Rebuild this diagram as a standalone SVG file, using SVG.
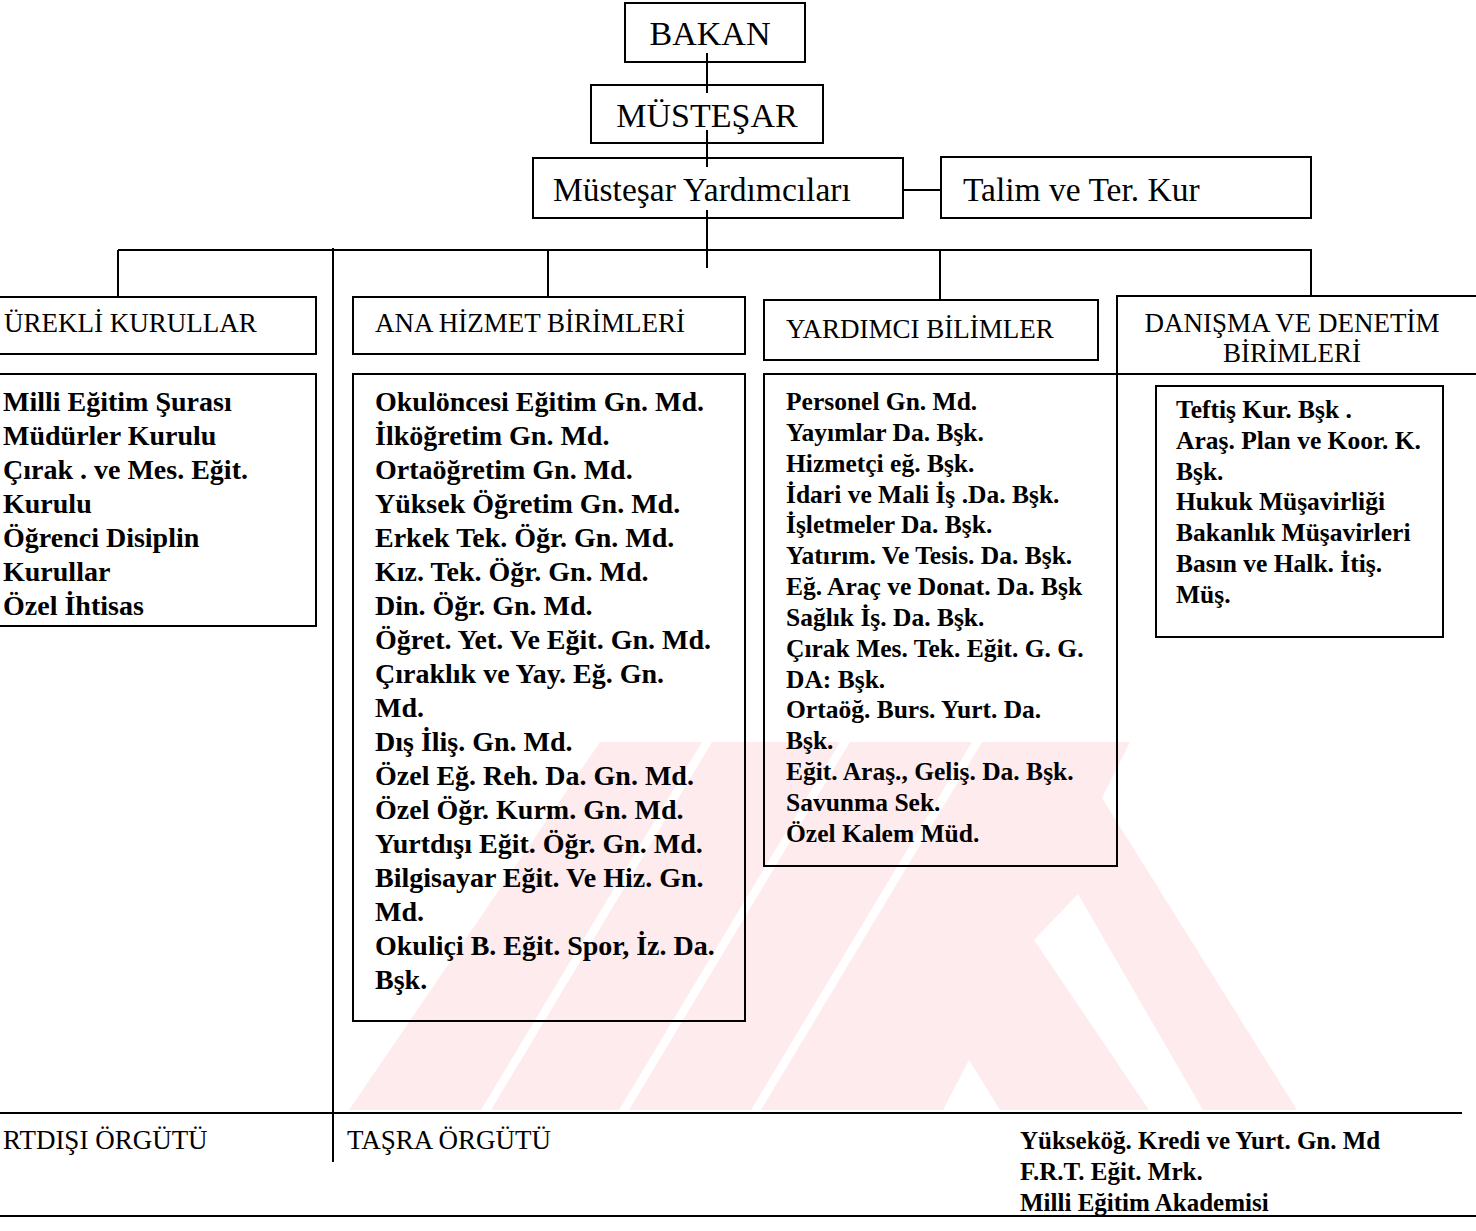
<svg xmlns="http://www.w3.org/2000/svg" width="1476" height="1231" viewBox="0 0 1476 1231">
<style>
.box{fill:none;stroke:#000;stroke-width:2}
.ln{fill:none;stroke:#000;stroke-width:2}
.t{font-family:"Liberation Serif","Times New Roman",serif;fill:#000}
.big{font-size:34px}
.mid{font-size:33.5px}
.hd{font-size:27px}
.la{font-size:28px;font-weight:bold}
.lb{font-size:25.5px;font-weight:bold}
.bt{font-size:27px}
.br{font-size:25px;font-weight:bold}
.wm{fill:#fdebee}
.wg{fill:#fff}
</style>
<rect width="1476" height="1231" fill="#fff"/>
<g id="watermark">
<polygon class="wm" points="349,1110 943,1110 969,1060 1000,1110 1297,1110 1102,798 1130,742 600,742"/>
<polygon class="wg" points="481,1110 491,1110 712,742 702,742"/>
<polygon class="wg" points="619,1110 629,1110 850,742 840,742"/>
<polygon class="wg" points="751,1110 761,1110 982,742 972,742"/>
<polygon class="wg" points="1034,940 1078,894 1203,1110 1149,1110"/>
</g>
<g id="connectors">
<line class="ln" x1="707" y1="53" x2="707" y2="93"/>
<line class="ln" x1="707" y1="130" x2="707" y2="167"/>
<line class="ln" x1="707" y1="210" x2="707" y2="268"/>
<line class="ln" x1="903" y1="190" x2="941" y2="190"/>
<line class="ln" x1="118" y1="250" x2="1312" y2="250"/>
<line class="ln" x1="118" y1="250" x2="118" y2="297"/>
<line class="ln" x1="548" y1="250" x2="548" y2="297"/>
<line class="ln" x1="940" y1="250" x2="940" y2="300"/>
<line class="ln" x1="1311" y1="250" x2="1311" y2="296"/>
<line class="ln" x1="333" y1="248" x2="333" y2="1162"/>
<line class="ln" x1="0" y1="1113" x2="1462" y2="1113"/>
<line class="ln" x1="0" y1="1216" x2="1476" y2="1216"/>
</g>
<g id="bakan">
<rect class="box" x="625" y="3" width="180" height="59"/>
<text class="t big" x="710" y="45" text-anchor="middle">BAKAN</text>
</g>
<g id="mustesar">
<rect class="box" x="591" y="85" width="232" height="58"/>
<text class="t big" x="707" y="127" text-anchor="middle">MÜSTEŞAR</text>
</g>
<g id="yardimcilar">
<rect class="box" x="533" y="158" width="370" height="60"/>
<text class="t mid" x="553" y="201">Müsteşar Yardımcıları</text>
</g>
<g id="talim">
<rect class="box" x="941" y="157" width="370" height="61"/>
<text class="t mid" x="963" y="201">Talim ve Ter. Kur</text>
</g>
<g id="surekli-kurullar">
<rect class="box" x="-5" y="297" width="321" height="57"/>
<text class="t hd" x="4" y="332">ÜREKLİ KURULLAR</text>
</g>
<g id="ana-hizmet">
<rect class="box" x="353" y="297" width="392" height="57"/>
<text class="t hd" x="375" y="332">ANA HİZMET BİRİMLERİ</text>
</g>
<g id="yardimci-bilimler">
<rect class="box" x="764" y="300" width="334" height="60"/>
<text class="t hd" x="786" y="338">YARDIMCI BİLİMLER</text>
</g>
<g id="danisma">
<rect class="box" x="1117" y="296" width="370" height="78"/>
<text class="t hd" x="1292" y="332" text-anchor="middle">DANIŞMA VE DENETİM</text>
<text class="t hd" x="1292" y="362" text-anchor="middle">BİRİMLERİ</text>
</g>
<g id="surekli-list">
<rect class="box" x="-5" y="374" width="321" height="252"/>
<text class="t la">
<tspan x="3" y="411">Milli Eğitim Şurası</tspan>
<tspan x="3" y="445">Müdürler Kurulu</tspan>
<tspan x="3" y="479">Çırak . ve Mes. Eğit.</tspan>
<tspan x="3" y="513">Kurulu</tspan>
<tspan x="3" y="547">Öğrenci Disiplin</tspan>
<tspan x="3" y="581">Kurullar</tspan>
<tspan x="3" y="615">Özel İhtisas</tspan>
</text>
</g>
<g id="ana-list">
<rect class="box" x="353" y="374" width="392" height="647"/>
<text class="t la">
<tspan x="375" y="411">Okulöncesi Eğitim Gn. Md.</tspan>
<tspan x="375" y="445">İlköğretim Gn. Md.</tspan>
<tspan x="375" y="479">Ortaöğretim Gn. Md.</tspan>
<tspan x="375" y="513">Yüksek Öğretim Gn. Md.</tspan>
<tspan x="375" y="547">Erkek Tek. Öğr. Gn. Md.</tspan>
<tspan x="375" y="581">Kız. Tek. Öğr. Gn. Md.</tspan>
<tspan x="375" y="615">Din. Öğr. Gn. Md.</tspan>
<tspan x="375" y="649">Öğret. Yet. Ve Eğit. Gn. Md.</tspan>
<tspan x="375" y="683">Çıraklık ve Yay. Eğ. Gn.</tspan>
<tspan x="375" y="717">Md.</tspan>
<tspan x="375" y="751">Dış İliş. Gn. Md.</tspan>
<tspan x="375" y="785">Özel Eğ. Reh. Da. Gn. Md.</tspan>
<tspan x="375" y="819">Özel Öğr. Kurm. Gn. Md.</tspan>
<tspan x="375" y="853">Yurtdışı Eğit. Öğr. Gn. Md.</tspan>
<tspan x="375" y="887">Bilgisayar Eğit. Ve Hiz. Gn.</tspan>
<tspan x="375" y="921">Md.</tspan>
<tspan x="375" y="955">Okuliçi B. Eğit. Spor, İz. Da.</tspan>
<tspan x="375" y="989">Bşk.</tspan>
</text>
</g>
<g id="yardimci-list">
<rect class="box" x="764" y="374" width="353" height="492"/>
<text class="t lb">
<tspan x="786" y="410">Personel Gn. Md.</tspan>
<tspan x="786" y="441">Yayımlar Da. Bşk.</tspan>
<tspan x="786" y="472">Hizmetçi eğ. Bşk.</tspan>
<tspan x="786" y="503">İdari ve Mali İş .Da. Bşk.</tspan>
<tspan x="786" y="533">İşletmeler Da. Bşk.</tspan>
<tspan x="786" y="564">Yatırım. Ve Tesis. Da. Bşk.</tspan>
<tspan x="786" y="595">Eğ. Araç ve Donat. Da. Bşk</tspan>
<tspan x="786" y="626">Sağlık İş. Da. Bşk.</tspan>
<tspan x="786" y="657">Çırak Mes. Tek. Eğit. G. G.</tspan>
<tspan x="786" y="688">DA: Bşk.</tspan>
<tspan x="786" y="718">Ortaöğ. Burs. Yurt. Da.</tspan>
<tspan x="786" y="749">Bşk.</tspan>
<tspan x="786" y="780">Eğit. Araş., Geliş. Da. Bşk.</tspan>
<tspan x="786" y="811">Savunma Sek.</tspan>
<tspan x="786" y="842">Özel Kalem Müd.</tspan>
</text>
</g>
<g id="teftis-list">
<rect class="box" x="1156" y="386" width="287" height="251"/>
<text class="t lb">
<tspan x="1176" y="418">Teftiş Kur. Bşk .</tspan>
<tspan x="1176" y="449">Araş. Plan ve Koor. K.</tspan>
<tspan x="1176" y="480">Bşk.</tspan>
<tspan x="1176" y="510">Hukuk Müşavirliği</tspan>
<tspan x="1176" y="541">Bakanlık Müşavirleri</tspan>
<tspan x="1176" y="572">Basın ve Halk. İtiş.</tspan>
<tspan x="1176" y="603">Müş.</tspan>
</text>
</g>
<g id="yurtdisi">
<text class="t bt" x="3" y="1149">RTDIŞI ÖRGÜTÜ</text>
</g>
<g id="tasra">
<text class="t bt" x="347" y="1149">TAŞRA ÖRGÜTÜ</text>
</g>
<g id="bagli">
<text class="t br">
<tspan x="1020" y="1149">Yükseköğ. Kredi ve Yurt. Gn. Md</tspan>
<tspan x="1020" y="1180">F.R.T. Eğit. Mrk.</tspan>
<tspan x="1020" y="1211">Milli Eğitim Akademisi</tspan>
</text>
</g>
</svg>
